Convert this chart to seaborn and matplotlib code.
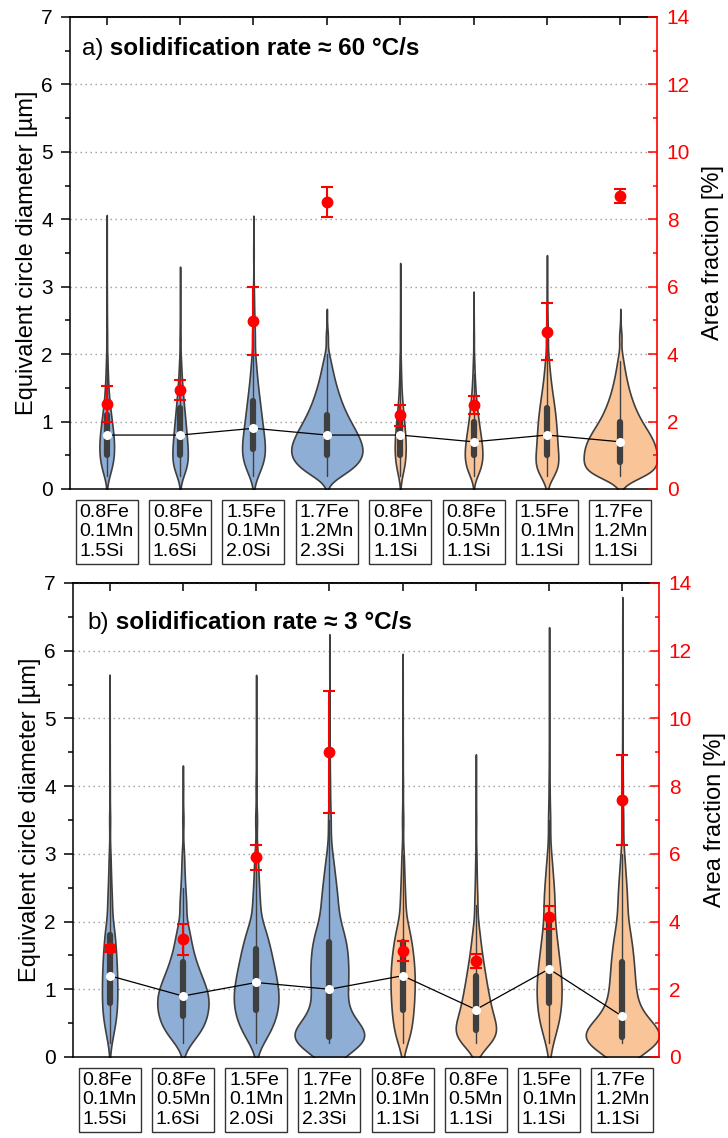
import numpy as np
import matplotlib
matplotlib.use("Agg")
import matplotlib.pyplot as plt
import seaborn as sns
from matplotlib.ticker import MultipleLocator

alloys = ["0.8Fe\n0.1Mn\n1.5Si", "0.8Fe\n0.5Mn\n1.6Si", "1.5Fe\n0.1Mn\n2.0Si", "1.7Fe\n1.2Mn\n2.3Si",
          "0.8Fe\n0.1Mn\n1.1Si", "0.8Fe\n0.5Mn\n1.1Si", "1.5Fe\n0.1Mn\n1.1Si", "1.7Fe\n1.2Mn\n1.1Si"]

# diameter classes [um] and particle counts per class
diam = [0.2, 0.3, 0.4, 0.5, 0.6, 0.7, 0.8, 0.9, 1.0, 1.1, 1.2, 1.3, 1.4, 1.5, 1.6, 1.7, 1.8, 1.9, 2.0,
        2.25, 2.5, 2.75, 3.0, 3.5, 4.0, 4.5, 5.0, 5.5, 6.0]

counts_60 = [
    [40, 67, 87, 97, 100, 97, 90, 80, 67, 57, 47, 35, 28, 22, 18, 15, 12, 10, 8, 14, 8, 5, 4, 3, 0, 0, 0, 0, 0],
    [45, 85, 100, 100, 97, 90, 82, 75, 68, 60, 52, 44, 37, 30, 24, 19, 15, 12, 9, 15, 8, 4, 0, 0, 0, 0, 0, 0, 0],
    [35, 68, 88, 98, 98, 92, 85, 78, 71, 64, 58, 52, 45, 38, 32, 27, 23, 20, 17, 32, 20, 12, 8, 7, 0, 0, 0, 0, 0],
    [45, 70, 92, 98, 100, 93, 85, 75, 64, 55, 46, 39, 33, 27, 22, 18, 14, 10, 7, 7, 0, 0, 0, 0, 0, 0, 0, 0, 0],
    [40, 67, 87, 97, 100, 97, 90, 80, 67, 57, 47, 35, 28, 22, 18, 15, 12, 10, 8, 14, 8, 5, 4, 0, 0, 0, 0, 0, 0],
    [45, 80, 97, 100, 97, 88, 77, 66, 56, 46, 38, 30, 24, 19, 15, 12, 9, 7, 6, 9, 4, 0, 0, 0, 0, 0, 0, 0, 0],
    [70, 98, 100, 92, 87, 84, 81, 78, 74, 69, 62, 54, 46, 38, 31, 25, 20, 16, 13, 22, 12, 7, 4, 0, 0, 0, 0, 0, 0],
    [90, 100, 100, 100, 98, 92, 82, 70, 58, 48, 40, 33, 27, 22, 18, 14, 11, 8, 6, 8, 0, 0, 0, 0, 0, 0, 0, 0, 0],
]
largest_60 = [3.8, 3.05, 3.75, 2.45, 3.1, 2.7, 3.2, 2.45]
area_60 = [2.51, 2.94, 4.98, 8.51, 2.18, 2.49, 4.67, 8.70]
area_60_err = [0.53, 0.30, 1.02, 0.44, 0.31, 0.27, 0.84, 0.21]

counts_3 = [
    [25, 40, 60, 78, 90, 98, 100, 100, 100, 100, 98, 95, 92, 85, 80, 74, 68, 62, 55, 85, 58, 40, 30, 26, 12, 6, 3, 0, 0],
    [30, 55, 75, 86, 93, 97, 100, 100, 93, 80, 70, 60, 50, 42, 36, 31, 27, 23, 20, 35, 22, 15, 12, 8, 3, 0, 0, 0, 0],
    [33, 50, 67, 80, 90, 95, 100, 100, 97, 92, 86, 80, 74, 68, 62, 56, 46, 40, 34, 45, 32, 24, 20, 16, 9, 5, 3, 0, 0],
    [145, 125, 56, 42, 34, 31, 31, 31, 37, 36, 36, 36, 35, 35, 35, 33, 30, 27, 24, 45, 33, 24, 16, 12, 6, 3, 1, 0, 0],
    [50, 65, 72, 80, 86, 90, 94, 97, 99, 100, 100, 98, 94, 88, 81, 73, 64, 55, 47, 60, 45, 32, 26, 22, 12, 7, 4, 2, 0],
    [95, 110, 105, 92, 80, 72, 66, 60, 54, 49, 44, 39, 34, 29, 25, 21, 18, 15, 13, 20, 13, 9, 7, 6, 3, 0, 0, 0, 0],
    [16, 24, 33, 42, 50, 52, 53, 53, 54, 54, 54, 48, 44, 40, 37, 34, 32, 28, 30, 68, 50, 36, 26, 22, 10, 5, 3, 2, 0],
    [200, 150, 80, 55, 45, 36, 33, 32, 31, 30, 29, 28, 27, 26, 24, 22, 20, 18, 16, 32, 25, 17, 12, 10, 5, 3, 2, 1, 1],
]
largest_3 = [5.3, 4.0, 5.3, 5.8, 5.6, 4.15, 5.9, 6.35]
area_3 = [3.21, 3.48, 5.90, 9.01, 3.14, 2.83, 4.13, 7.59]
area_3_err = [0.10, 0.46, 0.37, 1.79, 0.30, 0.20, 0.34, 1.33]

BLUE = "#8FAED6"
ORANGE = "#F9C598"
EDGE = "#3f3f3f"

sns.set_style("white", rc={"text.color": "black", "axes.labelcolor": "black",
                           "xtick.color": "black", "ytick.color": "black",
                           "axes.edgecolor": "black"})
plt.rcParams["font.family"] = ["Liberation Sans", "DejaVu Sans"]

fig = plt.figure(figsize=(7.28, 11.38), dpi=100)


def draw_panel(rect, counts, largest, area, area_err, widths, tag, rate, title_pos):
    ax = fig.add_axes(rect)
    pos = np.arange(len(alloys))
    samples = [np.append(np.repeat(diam, c), top) for c, top in zip(counts, largest)]
    medians = [np.median(s) for s in samples]
    ax.plot(pos, medians, color="black", lw=0.9, zorder=1.5)

    for i, s in enumerate(samples):
        sns.violinplot(x=np.full(s.size, float(i)), y=s, native_scale=True, orient="x",
                       width=widths[i], density_norm="width", cut=2, gridsize=300,
                       color=BLUE if i < 4 else ORANGE, saturation=1,
                       linecolor=EDGE, linewidth=1.2, inner="box",
                       inner_kws=dict(box_width=4.5, whis_width=1.0), ax=ax)

    # white median dots on top of the inner boxes
    ax.plot(pos, medians, "o", ms=5.5, mfc="white", mec="white", zorder=4)

    ax.set_xlim(-0.5, 7.5)
    ax.set_ylim(0, 7)
    ax.set_xticks(pos)
    ax.set_xticklabels(alloys, fontsize=14, multialignment="left", linespacing=1.18,
                       bbox=dict(boxstyle="square,pad=0.2", fc="white", ec="#333333", lw=1.0))
    ax.tick_params(axis="x", direction="out", length=8, width=1.1, pad=2.8, color="black")
    ax.yaxis.set_major_locator(MultipleLocator(1))
    ax.yaxis.set_minor_locator(MultipleLocator(0.5))
    ax.tick_params(axis="y", which="major", direction="out", length=6.5, width=1.1, labelsize=15, pad=6)
    ax.tick_params(axis="y", which="minor", direction="out", length=3.5, width=1.1)
    ax.set_xlabel("")
    ax.set_ylabel("Equivalent circle diameter [µm]", fontsize=17)
    ax.yaxis.set_label_coords(-0.055, 0.5)
    ax.grid(axis="y", which="major", ls=(0, (1, 2.6)), color="#9a9a9a", lw=1.0)
    ax.set_axisbelow(True)
    for side in ["left", "bottom", "top"]:
        ax.spines[side].set_linewidth(1.1)
        ax.spines[side].set_color("black")
    ax.spines["right"].set_visible(False)

    top = ax.secondary_xaxis("top")
    top.set_xticks(pos)
    top.set_xticklabels([])
    top.tick_params(direction="in", length=6, width=1.1, color="black")
    top.spines["top"].set_linewidth(1.1)
    top.spines["top"].set_color("black")

    ax2 = ax.twinx()
    ax2.errorbar(pos, area, yerr=area_err, fmt="o", color="red", ms=7.5,
                 elinewidth=1.5, capsize=4.5, capthick=1.5)
    ax2.set_ylim(0, 14)
    ax2.yaxis.set_major_locator(MultipleLocator(2))
    ax2.yaxis.set_minor_locator(MultipleLocator(1))
    ax2.tick_params(axis="y", which="major", direction="in", length=6.5, width=1.1,
                    colors="red", labelsize=15, pad=7)
    ax2.tick_params(axis="y", which="minor", direction="in", length=3, width=1.1, colors="red")
    for side in ["left", "bottom", "top"]:
        ax2.spines[side].set_visible(False)
    ax2.spines["right"].set_color("red")
    ax2.spines["right"].set_linewidth(1.2)
    ax2.set_ylabel("Area fraction [%]", fontsize=17, color="black")
    ax2.yaxis.set_label_coords(1.077, 0.5)

    t1 = ax.text(title_pos[0], title_pos[1], tag, transform=ax.transAxes,
                 fontsize=17.5, va="baseline", ha="left", color="black")
    ax.annotate(" solidification rate ≈ " + rate + " °C/s", xy=(1, 0), xycoords=t1,
                va="bottom", ha="left", fontsize=17.5, fontweight="bold", color="black")


draw_panel([0.0962, 0.5703, 0.8063, 0.4148], counts_60, largest_60, area_60, area_60_err,
           [0.20, 0.21, 0.31, 0.97, 0.15, 0.24, 0.31, 1.0], "a)", "60", (0.0204, 0.9195))
draw_panel([0.1003, 0.0712, 0.8049, 0.4165], counts_3, largest_3, area_3, area_3_err,
           [0.21, 0.70, 0.61, 0.95, 0.33, 0.55, 0.34, 1.0], "b)", "3", (0.0239, 0.903))

fig.savefig("out.png", dpi=100)
